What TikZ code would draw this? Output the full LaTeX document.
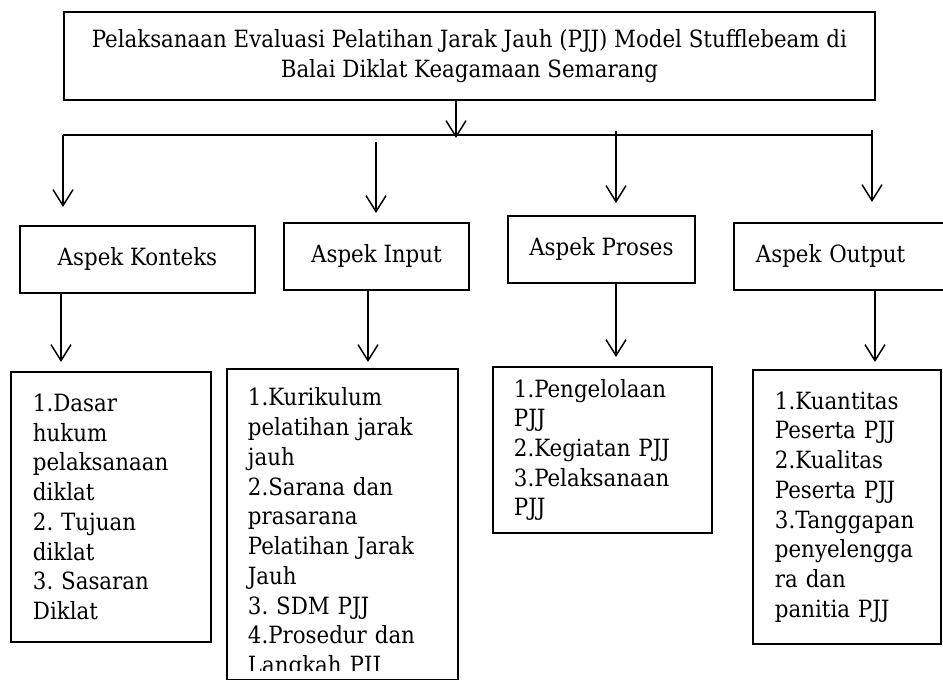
\documentclass[tikz,border=0pt]{standalone}
\usepackage{fontspec}
\setmainfont{DejaVu Serif Condensed}
\usetikzlibrary{arrows.meta}
\frenchspacing

\begin{document}
\begin{tikzpicture}[x=0.75pt,y=-0.75pt,
	box/.style={draw, line width=1.4pt, inner sep=0pt, anchor=north west, font=\fontsize{17.8}{22.3}\selectfont},
	listbox/.style={box, align=left},
	arr/.style={line width=1.1pt, -{Straight Barb[length=12pt,width=15pt]}}]
		\useasboundingbox (0,0) rectangle (943,680);
		% kotak judul
		\node[box, minimum width=608.25pt, minimum height=66pt, align=center] (judul) at (63,11)
			{Pelaksanaan Evaluasi Pelatihan Jarak Jauh (PJJ) Model Stufflebeam di\\Balai Diklat Keagamaan Semarang};
		% aspek
		\node[box, minimum width=176.25pt, minimum height=50.25pt] (konteks) at (19,225) {Aspek Konteks};
		\node[box, minimum width=138.75pt, minimum height=50.25pt] (input) at (283,222) {Aspek Input};
		\node[box, minimum width=140.25pt, minimum height=50.25pt] (proses) at (507,215) {Aspek Proses};
		\node[listbox, minimum height=50.25pt, inner xsep=16.5pt, text width=147pt] (output) at (733,222) {Aspek Output};
		% rincian
		\node[listbox, minimum height=202.5pt, inner xsep=16.5pt, text width=117pt] (konteksList) at (10,371)
			{1.Dasar\\hukum\\pelaksanaan\\diklat\\2. Tujuan\\diklat\\3. Sasaran\\Diklat};
		\begin{scope}
			\clip (0,0) rectangle (943,671);
			\node[listbox, draw=none, minimum height=231.75pt, text height=27pt, inner xsep=15pt, text width=141.75pt] (inputList) at (227,369)
				{1.Kurikulum\\pelatihan jarak\\jauh\\2.Sarana dan\\prasarana\\Pelatihan Jarak\\Jauh\\3. SDM PJJ\\4.Prosedur dan\\Langkah PJJ};
		\end{scope}
		\draw[line width=1.4pt] (inputList.north west) rectangle (inputList.south east);
		\node[listbox, minimum height=124.5pt, inner xsep=15.75pt, text width=132.75pt] (prosesList) at (492,366)
			{1.Pengelolaan\\PJJ\\2.Kegiatan PJJ\\3.Pelaksanaan\\PJJ};
		\node[listbox, minimum height=205.5pt, inner xsep=16.5pt, text width=108pt] (outputList) at (752,369)
			{1.Kuantitas\\Peserta PJJ\\2.Kualitas\\Peserta PJJ\\3.Tanggapan\\penyelengga\\ra dan\\panitia PJJ};
		% titik bantu
		\coordinate (barL) at (63,135);
		\coordinate (barR) at (872,135);
		\coordinate (barM) at (456,138);
		\coordinate (a1) at (63,207);
		\coordinate (a2s) at (376,142);
		\coordinate (a2) at (376,213);
		\coordinate (a3s) at (616,131);
		\coordinate (a3) at (616,203);
		\coordinate (a4s) at (872,130);
		\coordinate (a4) at (872,202);
		\coordinate (b1) at (61,362);
		\coordinate (b2) at (368,362);
		\coordinate (b3) at (616,357);
		\coordinate (b4) at (875,362);
		% garis dan panah
		\draw[line width=1.1pt] (barL) -- (barR) -- (a4s);
		\draw[arr] (judul.south -| barM) -- (barM);
		\draw[arr] (barL) -- (a1);
		\draw[arr] (a2s) -- (a2);
		\draw[arr] (a3s) -- (a3);
		\draw[arr] (a4s) -- (a4);
		\draw[arr] (konteks.south -| b1) -- (b1);
		\draw[arr] (input.south -| b2) -- (b2);
		\draw[arr] (proses.south -| b3) -- (b3);
		\draw[arr] (output.south -| b4) -- (b4);
	\end{tikzpicture}
\end{document}
